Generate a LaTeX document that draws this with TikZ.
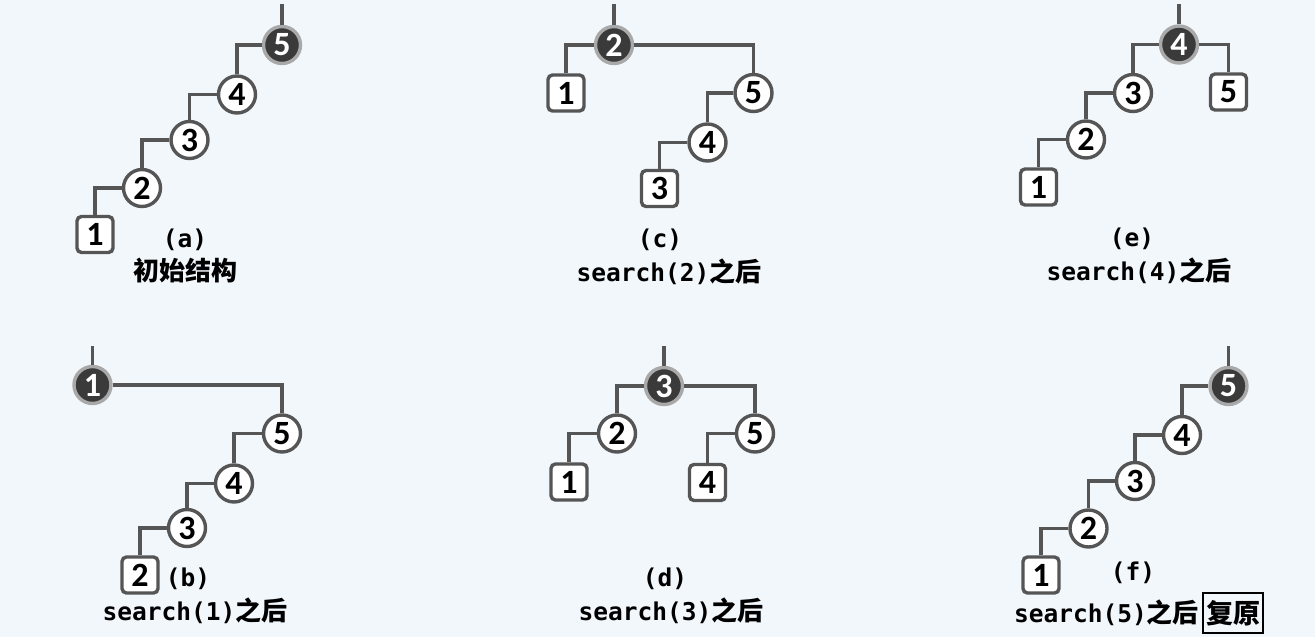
\documentclass[tikz,border=0pt]{standalone}
\usepackage{fontspec}
\newfontfamily\numf{Carlito}
\newfontfamily\monof{DejaVu Sans Mono}
\newfontfamily\cjkf{Noto Sans CJK SC}
\definecolor{bgc}{HTML}{F2F7FC}
\definecolor{edgec}{HTML}{555555}
\definecolor{darkf}{HTML}{3A3A3A}
\definecolor{ringc}{HTML}{A9A9A9}
\newcommand\capline[2]{{\monof\bfseries #1}{\cjkf\bfseries\fontsize{26}{26}\selectfont #2}}
\tikzset{
  numtext/.style={font=\numf\bfseries\fontsize{34}{34}\selectfont, inner sep=0pt},
  cnode/.style={numtext, circle, draw=edgec, line width=3.4pt, fill=white, minimum size=37pt},
  dnode/.style={numtext, circle, draw=ringc, line width=3.4pt, fill=darkf, text=white, minimum size=37pt},
  snode/.style={numtext, rectangle, rounded corners=4.5pt, draw=edgec, line width=3.4pt, fill=white, minimum size=36pt},
  edge/.style={draw=edgec, line width=3.4pt},
  captxt/.style={font=\monof\bfseries\fontsize{24.5}{24.5}\selectfont, inner sep=0pt},
  capline/.style={font=\fontsize{24.5}{24.5}\selectfont, inner sep=0pt},
}
\begin{document}
\begin{tikzpicture}[x=1pt,y=-1pt]
\fill[bgc] (0,0) rectangle (1315,637);
\useasboundingbox (0,0) rectangle (1315,637);

% (a)
\coordinate (ta) at (282,4);
\node[dnode] (a5) at (282,45) {5};
\node[cnode] (a4) at (237,94.5) {4};
\node[cnode] (a3) at (189.5,140) {3};
\node[cnode] (a2) at (142,188) {2};
\node[snode] (a1) at (95,234.5) {1};
\draw[edge] (ta) -- (a5.north);
\draw[edge] (a5.west) -| (a4.north);
\draw[edge] (a4.west) -| (a3.north);
\draw[edge] (a3.west) -| (a2.north);
\draw[edge] (a2.west) -| (a1.north);
\node[captxt] (acap1) at (185,240) {(a)};
\node[capline] (acap2) at (185,271) {{\cjkf\bfseries\fontsize{26}{26}\selectfont 初始结构}};

% (b)
\coordinate (tb) at (92.5,346);
\node[dnode] (b1) at (92.5,385) {1};
\node[cnode] (b5) at (282,433.5) {5};
\node[cnode] (b4) at (234,483.5) {4};
\node[cnode] (b3) at (187,528) {3};
\node[snode] (b2) at (140,575) {2};
\draw[edge] (tb) -- (b1.north);
\draw[edge] (b1.east) -| (b5.north);
\draw[edge] (b5.west) -| (b4.north);
\draw[edge] (b4.west) -| (b3.north);
\draw[edge] (b3.west) -| (b2.north);
\node[captxt] (bcap1) at (188,579) {(b)};
\node[capline] (bcap2) at (195,611) {\capline{search(1)}{之后}};

% (c)
\coordinate (tc) at (614,4);
\node[dnode] (c2) at (614,45) {2};
\node[snode] (c1) at (566,93) {1};
\node[cnode] (c5) at (753.5,93) {5};
\node[cnode] (c4) at (707.5,142.5) {4};
\node[snode] (c3) at (659.5,188.5) {3};
\draw[edge] (tc) -- (c2.north);
\draw[edge] (c2.west) -| (c1.north);
\draw[edge] (c2.east) -| (c5.north);
\draw[edge] (c5.west) -| (c4.north);
\draw[edge] (c4.west) -| (c3.north);
\node[captxt] (ccap1) at (660,240) {(c)};
\node[capline] (ccap2) at (669,272) {\capline{search(2)}{之后}};

% (d)
\coordinate (td) at (664,346);
\node[dnode] (d3) at (664,386) {3};
\node[cnode] (d2) at (617,433.5) {2};
\node[snode] (d1) at (569,482) {1};
\node[cnode] (d5) at (755,433.5) {5};
\node[snode] (d4) at (707.5,482.5) {4};
\draw[edge] (td) -- (d3.north);
\draw[edge] (d3.west) -| (d2.north);
\draw[edge] (d3.east) -| (d5.north);
\draw[edge] (d2.west) -| (d1.north);
\draw[edge] (d5.west) -| (d4.north);
\node[captxt] (dcap1) at (665,579) {(d)};
\node[capline] (dcap2) at (671,611) {\capline{search(3)}{之后}};

% (e)
\coordinate (te) at (1179,4);
\node[dnode] (e4) at (1179,44.5) {4};
\node[cnode] (e3) at (1133,93) {3};
\node[snode] (e5) at (1228.5,92) {5};
\node[cnode] (e2) at (1086,139.5) {2};
\node[snode] (e1) at (1038.5,187) {1};
\draw[edge] (te) -- (e4.north);
\draw[edge] (e4.west) -| (e3.north);
\draw[edge] (e4.east) -| (e5.north);
\draw[edge] (e3.west) -| (e2.north);
\draw[edge] (e2.west) -| (e1.north);
\node[captxt] (ecap1) at (1132,239) {(e)};
\node[capline] (ecap2) at (1139,271) {\capline{search(4)}{之后}};

% (f)
\coordinate (tf) at (1228.5,346);
\node[dnode] (f5) at (1228.5,386) {5};
\node[cnode] (f4) at (1182,435) {4};
\node[cnode] (f3) at (1135,481) {3};
\node[cnode] (f2) at (1088.5,528.5) {2};
\node[snode] (f1) at (1041,575) {1};
\draw[edge] (tf) -- (f5.north);
\draw[edge] (f5.west) -| (f4.north);
\draw[edge] (f4.west) -| (f3.north);
\draw[edge] (f3.west) -| (f2.north);
\draw[edge] (f2.west) -| (f1.north);
\node[captxt] (fcap1) at (1133,573) {(f)};
\node[capline, anchor=west] (fcap2) at (1014,613) {\capline{search(5)}{之后}};
\node[anchor=west, draw=black, line width=2pt, inner sep=3pt, minimum height=40pt, font=\cjkf\bfseries\fontsize{27}{27}\selectfont] (fbox) at ([xshift=3pt]fcap2.east) {复原};
\end{tikzpicture}
\end{document}
